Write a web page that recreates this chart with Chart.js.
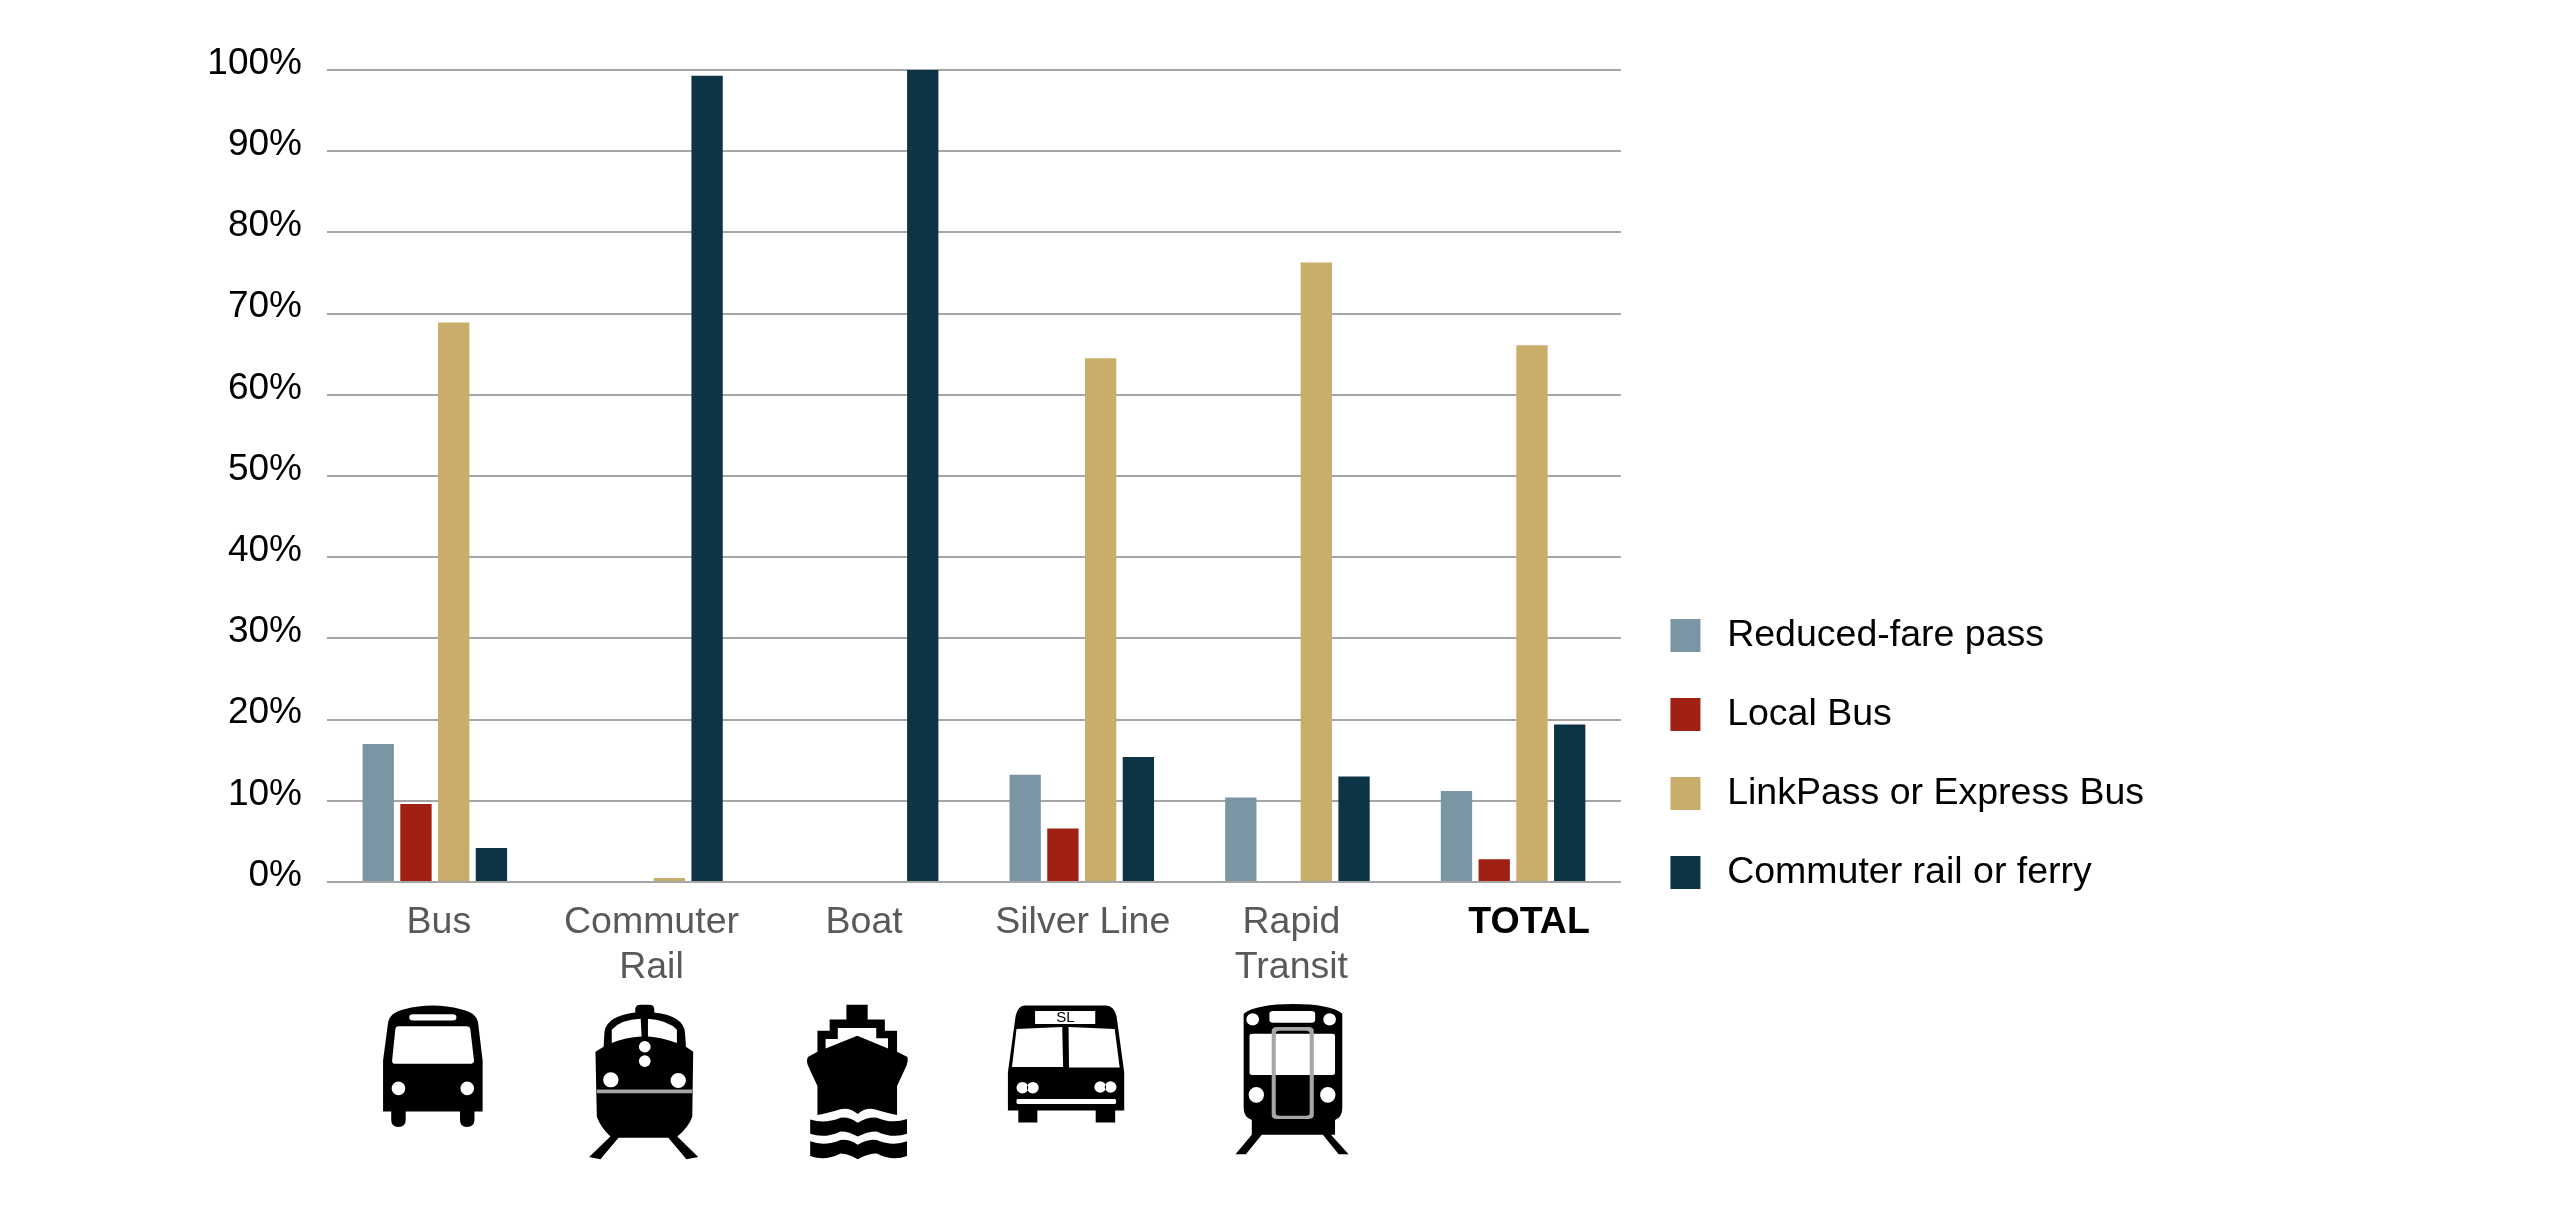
<!DOCTYPE html>
<html>
<head>
<meta charset="utf-8">
<style>
  html, body { margin: 0; padding: 0; background: #fff; }
  canvas { display: block; }
</style>
<script src="https://cdn.jsdelivr.net/npm/chart.js@4/dist/chart.umd.min.js"></script>
</head>
<body>
<canvas id="chart" width="2551" height="1229"></canvas>
<script>
const categories = ['Bus', ['Commuter', 'Rail'], 'Boat', 'Silver Line', ['Rapid', 'Transit'], 'TOTAL'];
const reducedFare = [17.0, 0, 0, 13.2, 10.4, 11.2];
const localBus = [9.6, 0, 0, 6.6, 0, 2.8];
const linkPass = [68.9, 0.5, 0, 64.5, 76.3, 66.1];
const commuterRail = [4.2, 99.3, 100, 15.4, 13.0, 19.4];

const FONT = 'Liberation Sans';
const GREY = '#A6A6A6';

function ell(cx, cy, rx, ry) {
    return `M${cx - rx} ${cy}a${rx} ${ry} 0 1 0 ${rx * 2} 0a${rx} ${ry} 0 1 0 ${-rx * 2} 0Z`;
}
function rr(x0, y0, x1, y1, r) {
    return `M${x0 + r} ${y0}H${x1 - r}Q${x1} ${y0} ${x1} ${y0 + r}V${y1 - r}Q${x1} ${y1} ${x1 - r} ${y1}H${x0 + r}Q${x0} ${y1} ${x0} ${y1 - r}V${y0 + r}Q${x0} ${y0} ${x0 + r} ${y0}Z`;
}

// icons under the axis; origin is where the tracing starts
const icons = [
    { origin: 298, black: 'M188 1225V1075L199 965Q202 935 235 925Q297 903 360 925Q395 935 398 965L408 1075V1225H390V1250Q390 1270 373 1270Q358 1270 358 1250V1225H238V1250Q238 1270 222 1270Q206 1270 206 1250V1225Z'
        + rr(246, 940, 350, 958, 8)
        + 'M222 975H372Q380 975 381 985L389 1075Q389 1085 380 1085H216Q207 1085 208 1075L215 985Q216 975 222 975Z'
        + ell(222, 1157, 15, 20) + ell(374, 1157, 15, 20) },
    { origin: 295, black: 'M752 925Q752 912 765 912H782Q794 912 794 925V935Q860 945 862 995L864 1035L880 1050L878 1240Q870 1270 845 1298L891 1358L865 1365L825 1302H715L675 1365L650 1358L697 1298Q675 1270 667 1240L664 1050L682 1035L684 990Q690 945 752 935Z'
        + 'M700 985Q720 955 764 953L766 1005Q730 1007 700 1024Z'
        + 'M780 953Q825 958 844 985V1024Q810 1007 780 1005Z'
        + ell(773, 1035, 13, 17) + ell(773, 1077, 13, 17) + ell(698, 1132, 17, 22) + ell(847, 1134, 17, 22),
      grey: 'M667 1160H878V1171H667Z' },
    { origin: 293, black: 'M1223 912H1270V955H1308V988H1335V1050L1358 1065Q1360 1075 1356 1090L1335 1150V1235Q1320 1232 1285 1218Q1265 1212 1248 1232Q1230 1212 1210 1218Q1175 1232 1159 1235V1150L1138 1090Q1134 1075 1138 1065L1159 1050V988H1186V955H1223Z'
        + 'M1204 980H1289V1010H1315V1040L1247 1003L1177 1040V1012H1204Z'
        + 'M1143 1248Q1175 1262 1210 1243Q1230 1240 1248 1258Q1270 1240 1290 1243Q1325 1262 1357 1247V1290Q1325 1305 1290 1283Q1268 1283 1248 1298Q1230 1283 1210 1283Q1175 1305 1143 1290Z'
        + 'M1143 1312Q1175 1328 1210 1308Q1230 1305 1248 1322Q1270 1305 1290 1308Q1325 1328 1357 1312V1355Q1325 1372 1290 1348Q1270 1348 1248 1365Q1230 1350 1210 1348Q1175 1372 1143 1355Z' },
    { origin: 950, black: 'M165 914H345Q362 914 368 945L385 1110V1222H365V1257H322V1222H193V1257H151V1222H128V1110L145 945Q150 914 165 914Z'
        + 'M188 930H321V968H188Z'
        + 'M147 983L248 977L250 1094H137Z'
        + 'M262 977L364 983L375 1096H263Z'
        + ell(160, 1155, 13, 17) + ell(183, 1155, 13, 17) + ell(332, 1153, 13, 17) + ell(355, 1153, 13, 17)
        + rr(147, 1188, 367, 1203, 4),
      sign: { text: 'SL', x: 255, y: 950 } },
    { origin: 945, black: 'M660 938Q690 910 770 910Q850 910 878 938V1215Q878 1240 862 1250V1293H853L892 1350H870L835 1293H700L665 1350H642L678 1293V1250Q660 1240 660 1215Z'
        + rr(717, 930, 818, 965, 8)
        + ell(680, 955, 14, 18) + ell(850, 955, 14, 18)
        + rr(673, 997, 862, 1118, 6)
        + ell(688, 1176, 17, 23) + ell(846, 1176, 17, 23),
      grey: rr(722, 977, 815, 1247, 12) + rr(731, 988, 806, 1237, 8) }
];
const ICON_TOP = 693.5;

const iconPlugin = {
    id: 'icons',
    afterDraw(chart) {
        const ctx = chart.ctx;
        icons.forEach(icon => {
            ctx.save();
            ctx.translate(icon.origin, ICON_TOP);
            ctx.scale(1 / 2.21, 1 / 2.93);
            ctx.fillStyle = '#000';
            ctx.fill(new Path2D(icon.black), 'evenodd');
            if (icon.grey) {
                ctx.fillStyle = GREY;
                ctx.fill(new Path2D(icon.grey), 'evenodd');
            }
            ctx.restore();
            if (icon.sign) {
                ctx.save();
                ctx.font = `15px "${FONT}"`;
                ctx.fillStyle = '#000';
                ctx.textAlign = 'center';
                ctx.textBaseline = 'middle';
                ctx.fillText(icon.sign.text, icon.origin + icon.sign.x / 2.21, ICON_TOP + icon.sign.y / 2.93);
                ctx.restore();
            }
        });
    }
};

// some category labels sit off centre in the original
const labelShift = [4, 1, -2, 1, -6, 16];
const labelShiftPlugin = {
    id: 'labelShift',
    afterLayout(chart) {
        // x scale box is kept short for the legend, let its labels run below it
        chart.scales.x.bottom = chart.height;
    },
    afterUpdate(chart) {
        chart.scales.x.getLabelItems().forEach((item, i) => {
            item.options.translation[0] += labelShift[i];
        });
    }
};

function swatch(color) {
    const c = document.createElement('canvas');
    c.width = 46;
    c.height = 33;
    const g = c.getContext('2d');
    g.fillStyle = color;
    g.fillRect(8, 0, 30, 33);
    return c;
}

const colors = ['#7A96A5', '#A02013', '#C9AD6A', '#0C3444'];

new Chart(document.getElementById('chart'), {
    type: 'bar',
    data: {
        labels: categories,
        datasets: [
            { label: 'Reduced-fare pass', data: reducedFare, backgroundColor: colors[0] },
            { label: 'Local Bus', data: localBus, backgroundColor: colors[1] },
            { label: 'LinkPass or Express Bus', data: linkPass, backgroundColor: colors[2] },
            { label: 'Commuter rail or ferry', data: commuterRail, backgroundColor: colors[3] }
        ]
    },
    plugins: [iconPlugin, labelShiftPlugin],
    options: {
        responsive: false,
        animation: false,
        categoryPercentage: 0.7,
        barPercentage: 0.83,
        layout: { padding: { top: 70, left: 0, right: 397, bottom: 296 } },
        plugins: {
            tooltip: { enabled: false },
            legend: {
                position: 'right',
                align: 'end',
                labels: {
                    color: '#000',
                    font: { family: FONT, size: 37.5 },
                    padding: 41.5,
                    usePointStyle: true,
                    pointStyleWidth: 46,
                    boxHeight: 33,
                    generateLabels(chart) {
                        return Chart.defaults.plugins.legend.labels.generateLabels(chart).map((item, i) => {
                            item.pointStyle = swatch(colors[i]);
                            return item;
                        });
                    }
                }
            }
        },
        scales: {
            x: {
                afterFit(scale) { scale.height = 51; },
                grid: { display: false },
                border: { display: false },
                ticks: {
                    autoSkip: false,
                    maxRotation: 0,
                    padding: 10.5,
                    color: ctx => (ctx.index === 5 ? '#000' : '#595959'),
                    font: ctx => ({ family: FONT, size: 37.5, weight: ctx.index === 5 ? 'bold' : 'normal', lineHeight: 1.2 })
                }
            },
            y: {
                min: 0,
                max: 100,
                afterFit(scale) { scale.width = 327; },
                grid: { color: GREY, lineWidth: 2, drawTicks: false },
                border: { display: false },
                ticks: {
                    stepSize: 10,
                    padding: 25,
                    labelOffset: -6.5,
                    color: '#000',
                    font: { family: FONT, size: 37 },
                    callback: v => v + '%'
                }
            }
        }
    }
});
</script>
</body>
</html>
